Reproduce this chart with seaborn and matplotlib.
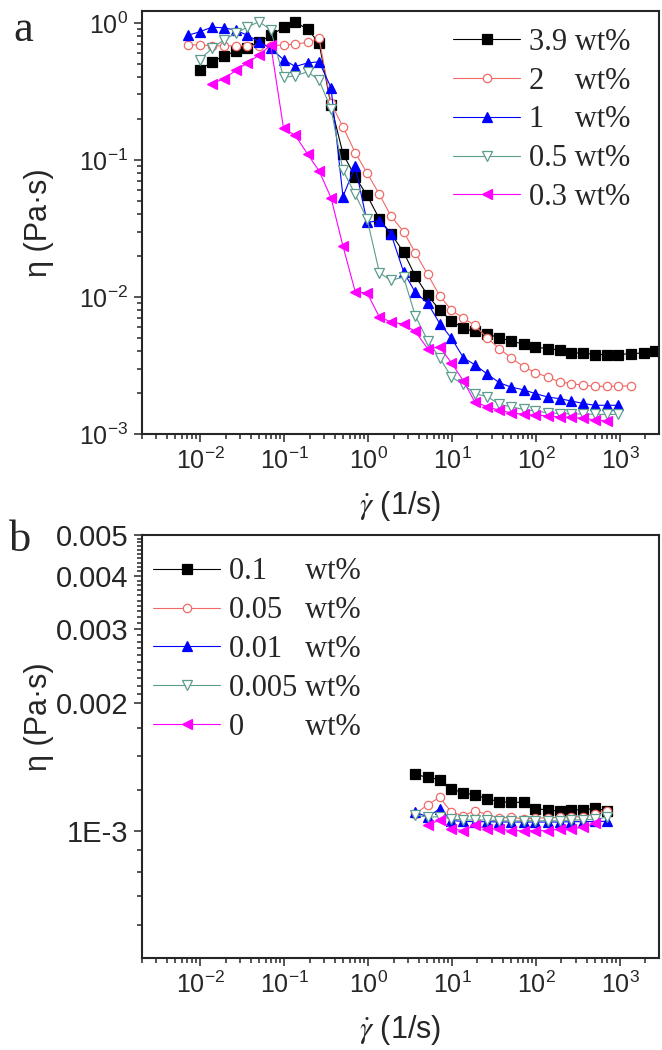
import matplotlib
matplotlib.use('Agg')
import matplotlib.pyplot as plt
import seaborn as sns
import pandas as pd
from matplotlib.ticker import FixedLocator, FixedFormatter, NullFormatter, LogLocator

# --- panel a : viscosity curves of the concentrated samples ---
rate_39 = [0.0098, 0.0138, 0.019, 0.0266, 0.0363, 0.050, 0.069, 0.098, 0.135, 0.19,
           0.26, 0.36, 0.50, 0.70, 0.97, 1.36, 1.86, 2.63, 3.63, 5.1,
           7.1, 9.8, 13.6, 18.6, 26.3, 36.3, 50, 71, 98, 138,
           190, 263, 363, 500, 692, 955, 1349, 1905, 2630]
eta_39 = [0.45, 0.52, 0.57, 0.625, 0.66, 0.72, 0.81, 0.925, 1.01, 0.90,
          0.71, 0.25, 0.111, 0.075, 0.055, 0.037, 0.029, 0.0213, 0.0142, 0.0103,
          0.0080, 0.0067, 0.0059, 0.0056, 0.0054, 0.0050, 0.0048, 0.0045, 0.0043, 0.0042,
          0.0041, 0.0039, 0.0039, 0.0038, 0.0038, 0.0038, 0.00386, 0.0039, 0.0040]

rate_2 = [0.0071, 0.0098, 0.0138, 0.019, 0.0266, 0.0363, 0.050, 0.069, 0.098, 0.135,
          0.19, 0.26, 0.36, 0.50, 0.70, 0.97, 1.36, 1.86, 2.63, 3.63,
          5.1, 7.1, 9.8, 13.6, 18.6, 26.3, 36.3, 50, 71, 98,
          138, 190, 263, 363, 500, 692, 955, 1349]
eta_2 = [0.69, 0.69, 0.68, 0.68, 0.68, 0.68, 0.68, 0.68, 0.69, 0.70,
         0.72, 0.77, 0.26, 0.174, 0.113, 0.080, 0.056, 0.039, 0.030, 0.021,
         0.0146, 0.0102, 0.0080, 0.0070, 0.0062, 0.0050, 0.0042, 0.0036, 0.0031, 0.0028,
         0.0026, 0.0024, 0.00233, 0.00227, 0.00223, 0.00223, 0.00223, 0.00225]

rate_1 = [0.0071, 0.0098, 0.0138, 0.019, 0.0266, 0.0363, 0.050, 0.069, 0.098, 0.135,
          0.19, 0.26, 0.36, 0.50, 0.70, 0.97, 1.36, 1.86, 2.63, 3.63,
          5.1, 7.1, 9.8, 13.6, 18.6, 26.3, 36.3, 50, 71, 98,
          138, 190, 263, 363, 500, 692, 955]
eta_1 = [0.81, 0.86, 0.93, 0.92, 0.885, 0.81, 0.73, 0.65, 0.54, 0.48,
         0.51, 0.52, 0.337, 0.054, 0.090, 0.035, 0.036, 0.029, 0.0153, 0.0108,
         0.0090, 0.0064, 0.0050, 0.0036, 0.0032, 0.00273, 0.00237, 0.0022, 0.0021, 0.00197,
         0.00186, 0.00181, 0.00174, 0.00167, 0.00162, 0.00162, 0.00162]

rate_05 = [0.0098, 0.0138, 0.019, 0.0266, 0.0363, 0.050, 0.069, 0.098, 0.135, 0.19,
           0.26, 0.36, 0.50, 0.70, 0.97, 1.36, 1.86, 2.63, 3.63, 5.1,
           7.1, 9.8, 13.6, 18.6, 26.3, 36.3, 50, 71, 98, 138,
           190, 263, 363, 500, 692, 955]
eta_05 = [0.54, 0.65, 0.75, 0.84, 0.93, 1.02, 0.89, 0.40, 0.41, 0.44,
          0.38, 0.237, 0.084, 0.056, 0.037, 0.015, 0.0132, 0.0140, 0.0073, 0.0048,
          0.0036, 0.0026, 0.0023, 0.00197, 0.00187, 0.00165, 0.00158, 0.00151, 0.00147, 0.00143,
          0.00141, 0.0014, 0.0014, 0.00139, 0.00139, 0.00139]

rate_03 = [0.0138, 0.019, 0.0266, 0.0363, 0.050, 0.069, 0.098, 0.135, 0.19, 0.26,
           0.36, 0.50, 0.70, 0.97, 1.36, 1.86, 2.63, 3.63, 5.1, 7.1,
           9.8, 13.6, 18.6, 26.3, 36.3, 50, 71, 98, 138, 190,
           263, 363, 500, 692]
eta_03 = [0.36, 0.39, 0.45, 0.51, 0.58, 0.69, 0.17, 0.151, 0.110, 0.083,
          0.053, 0.0235, 0.0109, 0.0107, 0.0071, 0.0066, 0.0063, 0.0056, 0.0042, 0.0043,
          0.0033, 0.00244, 0.00171, 0.00158, 0.00149, 0.00143, 0.00139, 0.00137, 0.00136, 0.00133,
          0.00132, 0.0013, 0.00127, 0.00124]

# --- panel b : dilute samples ---
rate_b = [3.63, 5.1, 7.1, 9.8, 13.6, 18.6, 26.3, 36.3, 50, 71,
          98, 138, 190, 263, 363, 500, 692]
eta_01 = [1.358e-3, 1.337e-3, 1.321e-3, 1.256e-3, 1.228e-3, 1.215e-3, 1.189e-3, 1.171e-3, 1.167e-3, 1.167e-3,
          1.126e-3, 1.120e-3, 1.111e-3, 1.120e-3, 1.120e-3, 1.129e-3, 1.115e-3]
eta_005 = [1.095e-3, 1.152e-3, 1.199e-3, 1.105e-3, 1.085e-3, 1.115e-3, 1.091e-3, 1.072e-3, 1.075e-3, 1.066e-3,
           1.072e-3, 1.072e-3, 1.075e-3, 1.079e-3, 1.079e-3, 1.095e-3, 1.115e-3]
eta_001 = [1.105e-3, 1.079e-3, 1.126e-3, 1.056e-3, 1.052e-3, 1.050e-3, 1.050e-3, 1.048e-3, 1.048e-3, 1.048e-3,
           1.048e-3, 1.048e-3, 1.048e-3, 1.050e-3, 1.050e-3, 1.052e-3, 1.052e-3]
eta_0005 = [1.090e-3, 1.075e-3, 1.080e-3, 1.065e-3, 1.060e-3, 1.060e-3, 1.060e-3, 1.055e-3, 1.055e-3, 1.055e-3,
            1.055e-3, 1.055e-3, 1.055e-3, 1.060e-3, 1.060e-3, 1.065e-3, 1.075e-3]
rate_b0 = [5.1, 7.1, 9.8, 13.6, 18.6, 26.3, 36.3, 50, 71, 98,
           138, 190, 263, 363, 500]
eta_0 = [1.03e-3, 1.06e-3, 1.01e-3, 1.00e-3, 1.03e-3, 1.01e-3, 1.01e-3, 1.00e-3, 1.00e-3, 1.00e-3,
         1.00e-3, 1.01e-3, 1.01e-3, 1.02e-3, 1.04e-3]

labels_a = ['3.9 wt%', '2    wt%', '1    wt%', '0.5 wt%', '0.3 wt%']
labels_b = ['0.1     wt%', '0.05   wt%', '0.01   wt%', '0.005 wt%', '0        wt%']

# style per series: (marker, colour, filled)
styles = [('s', '#000000', True),
          ('o', '#F06A66', False),
          ('^', '#0000FF', True),
          ('v', '#5B9C8E', False),
          ('<', '#FF00FF', True)]

sns.set_style('ticks')
plt.rcParams['font.family'] = ['Liberation Sans', 'DejaVu Sans']
plt.rcParams['mathtext.fontset'] = 'stix'
plt.rcParams['axes.linewidth'] = 1.5

W, H = 662, 1050
fig = plt.figure(figsize=(W / 100, H / 100), dpi=100)


def box(left, top, right, bottom):
    return [left / W, 1 - bottom / H, (right - left) / W, (bottom - top) / H]


ax_a = fig.add_axes(box(141.6, 11, 659, 434))
ax_b = fig.add_axes(box(141.6, 535, 659, 958))

series_a = [(rate_39, eta_39), (rate_2, eta_2), (rate_1, eta_1), (rate_05, eta_05), (rate_03, eta_03)]
series_b = [(rate_b, eta_01), (rate_b, eta_005), (rate_b, eta_001), (rate_b, eta_0005), (rate_b0, eta_0)]

legend_kw = dict(loc='upper left', frameon=False,
                 prop={'family': 'Liberation Serif', 'size': 22}, handlelength=2.2,
                 handletextpad=0.3, labelspacing=0.32, borderaxespad=0, borderpad=0)


def draw(ax, series, labels):
    for (x, y), lab, (mk, col, filled) in zip(series, labels, styles):
        df = pd.DataFrame({'rate': x, 'eta': y})
        ms = 6.5 if mk != 'o' else 6.0
        sns.lineplot(data=df, x='rate', y='eta', ax=ax, sort=False, estimator=None,
                     color=col, linewidth=0.8, marker=mk, markersize=ms,
                     markerfacecolor=col if filled else 'white',
                     markeredgecolor=col, markeredgewidth=0.9, label=lab)
    ax.set_xscale('log')
    ax.set_yscale('log')
    ax.set_xlim(0.002, 2900)
    ax.xaxis.set_major_locator(LogLocator(base=10, numticks=20))
    ax.xaxis.set_minor_locator(LogLocator(base=10, subs=range(2, 10), numticks=20))
    ax.xaxis.set_minor_formatter(NullFormatter())
    ax.tick_params(which='both', direction='out', top=False, right=False, width=1.1)
    ax.tick_params(which='major', length=6, labelsize=18)
    ax.tick_params(which='minor', length=3.5)
    ax.set_xlabel(r'$\dot{\gamma}$ (1/s)', fontsize=22)
    ax.set_ylabel('η (Pa·s)', fontsize=22)
    ax.xaxis.set_label_coords(0.5, -0.13)
    for s in ax.spines.values():
        s.set_visible(True)
        s.set_linewidth(1.5)


draw(ax_a, series_a, labels_a)
ax_a.set_ylim(1e-3, 1.22)
ax_a.yaxis.set_major_locator(LogLocator(base=10, numticks=10))
ax_a.yaxis.set_minor_locator(LogLocator(base=10, subs=range(2, 10), numticks=10))
ax_a.yaxis.set_minor_formatter(NullFormatter())
ax_a.yaxis.set_label_coords(-0.17, 0.5)
ax_a.legend(bbox_to_anchor=(0.602, 0.96), **legend_kw)

draw(ax_b, series_b, labels_b)
ax_b.set_ylim(5e-4, 5e-3)
ax_b.yaxis.set_major_locator(FixedLocator([0.001, 0.002, 0.003, 0.004, 0.005]))
ax_b.yaxis.set_major_formatter(FixedFormatter(['1E-3', '0.002', '0.003', '0.004', '0.005']))
minor_b = [0.0006, 0.0007, 0.0008, 0.0009, 0.00125, 0.0015, 0.00175,
           0.0021, 0.0022, 0.0023, 0.0024, 0.0025, 0.0026, 0.0027, 0.0028, 0.0029,
           0.0031, 0.0032, 0.0033, 0.0034, 0.0035, 0.0036, 0.0037, 0.0038, 0.0039,
           0.0041, 0.0042, 0.0043, 0.0044, 0.0045, 0.0046, 0.0047, 0.0048, 0.0049]
ax_b.yaxis.set_minor_locator(FixedLocator(minor_b))
ax_b.yaxis.set_minor_formatter(NullFormatter())
ax_b.tick_params(axis='y', which='major', labelsize=21)
ax_b.yaxis.set_label_coords(-0.17, 0.57)
ax_b.legend(bbox_to_anchor=(0.022, 0.947), **legend_kw)

fig.text(23 / W, 1 - 30 / H, 'a', family='Liberation Serif', fontsize=32, ha='center', va='center')
fig.text(20 / W, 1 - 540 / H, 'b', family='Liberation Serif', fontsize=32, ha='center', va='center')

fig.savefig('out.png', dpi=100)
